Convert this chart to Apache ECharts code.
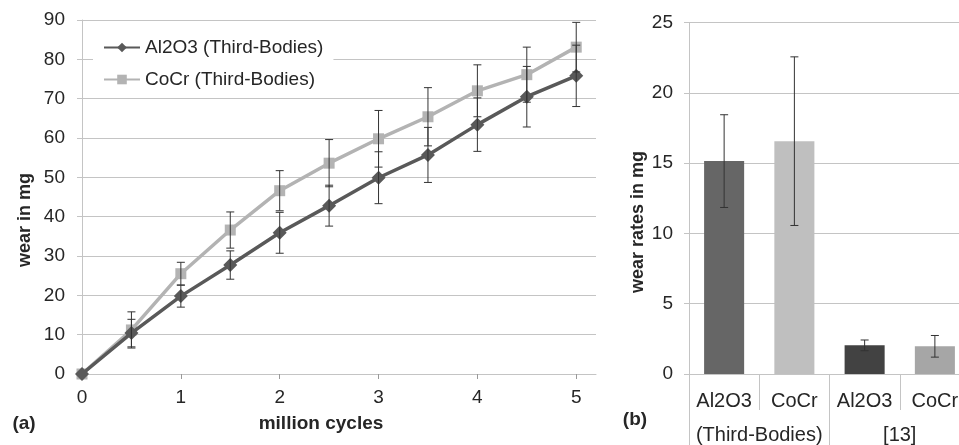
<!DOCTYPE html>
<html>
<head>
<meta charset="utf-8">
<script src="https://cdn.jsdelivr.net/npm/echarts@6/dist/echarts.min.js"></script>
<style>html,body{margin:0;padding:0;background:#fff}#c{width:959px;height:445px}</style>
</head>
<body>
<div id="c"></div>
<script>
// ---- data (a) ----
const cycles = [0, 0.5, 1, 1.5, 2, 2.5, 3, 3.5, 4, 4.5, 5];
const al2o3 = [0, 10.4, 19.8, 27.7, 35.9, 42.8, 49.9, 55.7, 63.4, 70.5, 75.8];
const al2o3Err = [0, 3.5, 2.8, 3.6, 5.2, 5.2, 6.6, 7.0, 6.8, 7.7, 7.8];
const cocr = [0, 11.2, 25.5, 36.6, 46.6, 53.6, 59.8, 65.4, 72.0, 76.1, 83.1];
const cocrErr = [0, 4.6, 2.9, 4.6, 5.1, 6.0, 7.2, 7.4, 6.6, 7.0, 6.3];
const xTicks = [0, 1, 2, 3, 4, 5];
const seriesNames = ['Al2O3 (Third-Bodies)', 'CoCr (Third-Bodies)'];
// ---- data (b) ----
const barCats = ['Al2O3', 'CoCr', 'Al2O3', 'CoCr'];
const groupCats = ['(Third-Bodies)', '[13]'];
const rates = [15.15, 16.57, 2.04, 1.97];
const ratesErr = [3.3, 6.0, 0.38, 0.77];
const barColors = ['#666666', '#bfbfbf', '#424242', '#a6a6a6'];

const FONT = 'Liberation Sans, Arial, sans-serif';
const TXT = '#262626';
const GRID = '#c4c4c4';

function errData(xs, ys, es) {
  return xs.map((x, i) => [x, ys[i] - es[i], ys[i] + es[i]]).filter((d, i) => es[i] > 0);
}
function errRender(params, api) {
  const x = api.value(0), lo = api.value(1), hi = api.value(2);
  const p1 = api.coord([x, hi]), p2 = api.coord([x, lo]);
  const w = 4;
  const st = { stroke: '#333', lineWidth: 1 };
  return { type: 'group', children: [
    { type: 'line', shape: { x1: p1[0], y1: p1[1], x2: p2[0], y2: p2[1] }, style: st },
    { type: 'line', shape: { x1: p1[0] - w, y1: p1[1], x2: p1[0] + w, y2: p1[1] }, style: st },
    { type: 'line', shape: { x1: p2[0] - w, y1: p2[1], x2: p2[0] + w, y2: p2[1] }, style: st }
  ]};
}

const chart = echarts.init(document.getElementById('c'), null, { renderer: 'canvas' });
chart.setOption({
  animation: false,
  textStyle: { fontFamily: FONT },
  grid: [
    { left: 82, right: 363, top: 20, bottom: 71, outerBoundsMode: 'none' },
    { left: 689, width: 281, top: 22.7, bottom: 71, outerBoundsMode: 'none' }
  ],
  legend: {
    data: seriesNames,
    orient: 'vertical',
    left: 93, top: 30,
    padding: [8, 10, 8, 10],
    backgroundColor: '#fff',
    itemWidth: 36, itemHeight: 12, itemGap: 13,
    textStyle: { fontSize: 19, color: TXT, fontFamily: FONT }
  },
  xAxis: [
    { gridIndex: 0, type: 'value', min: 0, max: 5.2, interval: 1,
      axisLine: { show: true, lineStyle: { color: GRID } },
      axisTick: { show: true, length: 5, lineStyle: { color: '#999' }, customValues: xTicks },
      axisLabel: { customValues: xTicks, fontSize: 19, color: TXT, margin: 14, fontFamily: FONT },
      splitLine: { show: false } },
    { gridIndex: 1, type: 'category', data: barCats, boundaryGap: true,
      axisLine: { show: true, lineStyle: { color: GRID } },
      axisTick: { show: true, interval: 0, length: 36, lineStyle: { color: GRID } },
      axisLabel: { interval: 0, hideOverlap: false, fontSize: 20, color: TXT, margin: 17, fontFamily: FONT } },
    { gridIndex: 1, type: 'category', data: groupCats, boundaryGap: true, position: 'bottom',
      axisLine: { show: false },
      axisTick: { show: true, interval: 0, length: 80, lineStyle: { color: GRID } },
      axisLabel: { interval: 0, hideOverlap: false, fontSize: 20, color: TXT, margin: 51, fontFamily: FONT } }
  ],
  yAxis: [
    { gridIndex: 0, type: 'value', min: 0, max: 90, interval: 10,
      axisLine: { show: true, lineStyle: { color: GRID } },
      axisTick: { show: true, length: 5, lineStyle: { color: GRID } },
      axisLabel: { fontSize: 19, color: TXT, margin: 17, fontFamily: FONT },
      splitLine: { lineStyle: { color: GRID, width: 1 } } },
    { gridIndex: 1, type: 'value', min: 0, max: 25, interval: 5,
      axisLine: { show: true, lineStyle: { color: GRID } },
      axisTick: { show: true, length: 5, lineStyle: { color: GRID } },
      axisLabel: { fontSize: 19, color: TXT, margin: 16, fontFamily: FONT },
      splitLine: { lineStyle: { color: GRID, width: 1 } } }
  ],
  series: [
    { name: seriesNames[1], type: 'line', xAxisIndex: 0, yAxisIndex: 0,
      data: cycles.map((x, i) => [x, cocr[i]]),
      symbol: 'rect', symbolSize: 11,
      lineStyle: { color: '#b3b3b3', width: 3.5 },
      itemStyle: { color: '#b3b3b3' }, z: 2 },
    { name: seriesNames[0], type: 'line', xAxisIndex: 0, yAxisIndex: 0,
      data: cycles.map((x, i) => [x, al2o3[i]]),
      symbol: 'diamond', symbolSize: 14,
      lineStyle: { color: '#595959', width: 3.5 },
      itemStyle: { color: '#595959' }, z: 3 },
    { type: 'custom', xAxisIndex: 0, yAxisIndex: 0, renderItem: errRender,
      data: errData(cycles, al2o3, al2o3Err), z: 4, silent: true },
    { type: 'custom', xAxisIndex: 0, yAxisIndex: 0, renderItem: errRender,
      data: errData(cycles, cocr, cocrErr), z: 4, silent: true },
    { type: 'bar', xAxisIndex: 1, yAxisIndex: 1, barWidth: '57%',
      data: rates.map((v, i) => ({ value: v, itemStyle: { color: barColors[i] } })) },
    { type: 'custom', xAxisIndex: 1, yAxisIndex: 1, renderItem: errRender,
      data: rates.map((v, i) => [i, v - ratesErr[i], v + ratesErr[i]]), z: 4, silent: true }
  ],
  graphic: [
    { type: 'text', x: 25, y: 220, rotation: Math.PI / 2,
      style: { text: 'wear in mg', font: 'bold 18px ' + FONT, fill: TXT, textAlign: 'center', textVerticalAlign: 'middle' } },
    { type: 'text', x: 321, y: 424,
      style: { text: 'million cycles', font: 'bold 19px ' + FONT, fill: TXT, textAlign: 'center', textVerticalAlign: 'middle' } },
    { type: 'text', x: 24, y: 424,
      style: { text: '(a)', font: 'bold 19px ' + FONT, fill: TXT, textAlign: 'center', textVerticalAlign: 'middle' } },
    { type: 'text', x: 638, y: 222, rotation: Math.PI / 2,
      style: { text: 'wear rates in mg', font: 'bold 18px ' + FONT, fill: TXT, textAlign: 'center', textVerticalAlign: 'middle' } },
    { type: 'text', x: 635, y: 420,
      style: { text: '(b)', font: 'bold 19px ' + FONT, fill: TXT, textAlign: 'center', textVerticalAlign: 'middle' } }
  ]
});
</script>
</body>
</html>
